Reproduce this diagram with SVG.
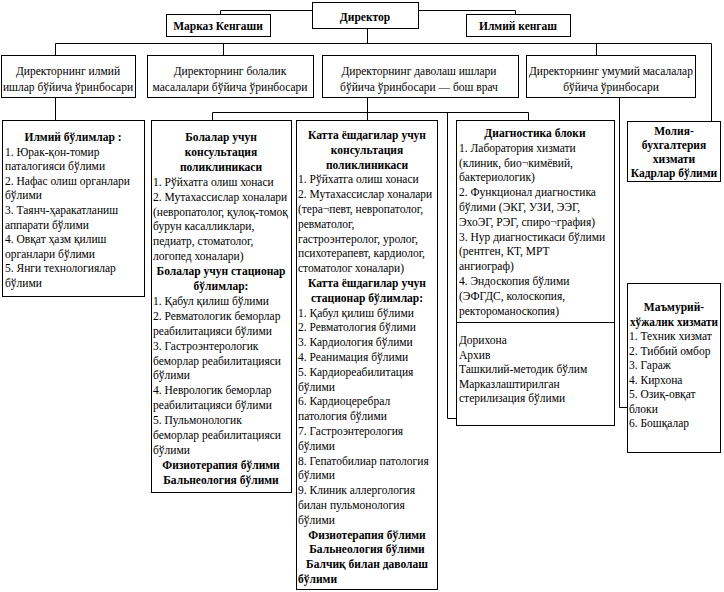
<svg xmlns="http://www.w3.org/2000/svg" width="724" height="592" viewBox="0 0 724 592">
<style>
rect{fill:#fff;stroke:#000;stroke-width:1}
.w path,.w line{stroke:#000;stroke-width:1;fill:none}
text{font-family:"Liberation Serif","Times New Roman",serif;font-size:11.5px;fill:#000}
.b{font-weight:bold}
.c{text-anchor:middle}
</style>
<rect width="724" height="592" style="stroke:none"/>
<g class="w" id="connectors">
<path d="M312.5 10.5H220.5V14"/>
<path d="M418.5 10.5H515.5V14"/>
<path d="M367.5 28V43.5"/>
<path d="M55.5 55V43.5H711.5V121"/>
<path d="M223.5 43.5V55"/>
<path d="M596.5 43.5V55"/>
<path d="M55.5 97V120"/>
<path d="M367.5 97V120"/>
<path d="M212.5 120V112.5H528.5V120"/>
<path d="M447.5 112.5V418.5H456"/>
<path d="M619.5 97V407.5H627"/>
</g>
<g id="director"><rect x="312.5" y="2.5" width="106" height="26"/><text class="b c" x="365" y="21">Директор</text></g>
<g id="markaz"><rect x="166.5" y="14.5" width="104" height="22"/><text class="b c" x="218" y="30">Марказ Кенгаши</text></g>
<g id="ilmiy-kengash"><rect x="466.5" y="14.5" width="104" height="22"/><text class="b c" x="518" y="30">Илмий кенгаш</text></g>
<g id="dep-ilmiy"><rect x="1.5" y="55.5" width="134" height="42"/><text class="c" x="68" y="75">Директорнинг илмий</text><text class="c" x="68" y="91">ишлар бўйича ўринбосари</text></g>
<g id="dep-bolalik"><rect x="147.5" y="55.5" width="166" height="42"/><text class="c" x="230" y="75">Директорнинг болалик</text><text class="c" x="230" y="91">масалалари бўйича ўринбосари</text></g>
<g id="dep-davolash"><rect x="322.5" y="55.5" width="196" height="42"/><text class="c" x="419" y="75">Директорнинг даволаш ишлари</text><text class="c" x="419" y="91">бўйича ўринбосари — бош врач</text></g>
<g id="dep-umumiy"><rect x="526.5" y="55.5" width="169" height="42"/><text class="c" x="611" y="75">Директорнинг умумий масалалар</text><text class="c" x="611" y="91">бўйича ўринбосари</text></g>
<g id="ilmiy-bolimlar"><rect x="2.5" y="120.5" width="142" height="176"/>
<text class="b c" x="73" y="141">Илмий бўлимлар :</text>
<text x="5" y="155.6">1. Юрак-қон-томир</text>
<text x="5" y="170.2">паталогияси бўлими</text>
<text x="5" y="184.8">2. Нафас олиш органлари</text>
<text x="5" y="199.4">бўлими</text>
<text x="5" y="214">3. Таянч-ҳаракатланиш</text>
<text x="5" y="228.6">аппарати бўлими</text>
<text x="5" y="243.2">4. Овқат ҳазм қилиш</text>
<text x="5" y="257.8">органлари бўлими</text>
<text x="5" y="272.4">5. Янги технологиялар</text>
<text x="5" y="287">бўлими</text>
</g>
<g id="bolalar"><rect x="151.5" y="120.5" width="140" height="372"/>
<text class="b c" x="221" y="141">Болалар учун</text>
<text class="b c" x="221" y="155.9">консультация</text>
<text class="b c" x="221" y="170.8">поликлиникаси</text>
<text x="153" y="185.7">1. Рўйхатга олиш хонаси</text>
<text x="153" y="200.6">2. Мутахассислар хоналари</text>
<text x="153" y="215.5">(невропатолог, қулоқ-томоқ</text>
<text x="153" y="230.4">бурун касалликлари,</text>
<text x="153" y="245.3">педиатр, стоматолог,</text>
<text x="153" y="260.2">логопед хоналари)</text>
<text class="b c" x="221" y="275.1">Болалар учун стационар</text>
<text class="b c" x="221" y="290">бўлимлар:</text>
<text x="153" y="304.9">1. Қабул қилиш бўлими</text>
<text x="153" y="319.8">2. Ревматологик беморлар</text>
<text x="153" y="334.7">реабилитацияси бўлими</text>
<text x="153" y="349.6">3. Гастроэнтерологик</text>
<text x="153" y="364.5">беморлар реабилитацияси</text>
<text x="153" y="379.4">бўлими</text>
<text x="153" y="394.3">4. Неврологик беморлар</text>
<text x="153" y="409.2">реабилитацияси бўлими</text>
<text x="153" y="424.1">5. Пульмонологик</text>
<text x="153" y="439">беморлар реабилитацияси</text>
<text x="153" y="453.9">бўлими</text>
<text class="b c" x="221" y="468.8">Физиотерапия бўлими</text>
<text class="b c" x="221" y="483.7">Бальнеология бўлими</text>
</g>
<g id="katta"><rect x="296.5" y="120.5" width="141" height="469"/>
<text class="b c" x="367" y="139">Катта ёшдагилар учун</text>
<text class="b c" x="367" y="153.8">консультация</text>
<text class="b c" x="367" y="168.6">поликлиникаси</text>
<text x="298" y="183.4">1. Рўйхатга олиш хонаси</text>
<text x="298" y="198.2">2. Мутахассислар хоналари</text>
<text x="298" y="213">(тера¬певт, невропатолог,</text>
<text x="298" y="227.8">ревматолог,</text>
<text x="298" y="242.6">гастроэнтеролог, уролог,</text>
<text x="298" y="257.4">психотерапевт, кардиолог,</text>
<text x="298" y="272.2">стоматолог хоналари)</text>
<text class="b c" x="367" y="287">Катта ёшдагилар учун</text>
<text class="b c" x="367" y="301.8">стационар бўлимлар:</text>
<text x="298" y="316.6">1. Қабул қилиш бўлими</text>
<text x="298" y="331.4">2. Ревматология бўлими</text>
<text x="298" y="346.2">3. Кардиология бўлими</text>
<text x="298" y="361">4. Реанимация бўлими</text>
<text x="298" y="375.8">5. Кардиореабилитация</text>
<text x="298" y="390.6">бўлими</text>
<text x="298" y="405.4">6. Кардиоцеребрал</text>
<text x="298" y="420.2">патология бўлими</text>
<text x="298" y="435">7. Гастроэнтерология</text>
<text x="298" y="449.8">бўлими</text>
<text x="298" y="464.6">8. Гепатобилиар патология</text>
<text x="298" y="479.4">бўлими</text>
<text x="298" y="494.2">9. Клиник аллергология</text>
<text x="298" y="509">билан пульмонология</text>
<text x="298" y="523.8">бўлими</text>
<text class="b c" x="367" y="538.6">Физиотерапия бўлими</text>
<text class="b c" x="367" y="553.4">Бальнеология бўлими</text>
<text class="b c" x="367" y="568.2">Балчиқ билан даволаш</text>
<text class="b" x="298" y="583">бўлими</text>
</g>
<g id="diagnostika"><rect x="456.5" y="120.5" width="158" height="305"/>
<line x1="456.5" y1="322.5" x2="614.5" y2="322.5" style="stroke:#000"/>
<text class="b c" x="535" y="137">Диагностика блоки</text>
<text x="459" y="151.8">1. Лаборатория хизмати</text>
<text x="459" y="166.6">(клиник, био¬кимёвий,</text>
<text x="459" y="181.4">бактериологик)</text>
<text x="459" y="196.2">2. Функционал диагностика</text>
<text x="459" y="211">бўлими (ЭКГ, УЗИ, ЭЭГ,</text>
<text x="459" y="225.8">ЭхоЭГ, РЭГ, спиро¬графия)</text>
<text x="459" y="240.6">3. Нур диагностикаси бўлими</text>
<text x="459" y="255.4">(рентген, КТ, МРТ</text>
<text x="459" y="270.2">ангиограф)</text>
<text x="459" y="285">4. Эндоскопия бўлими</text>
<text x="459" y="299.8">(ЭФГДС, колоскопия,</text>
<text x="459" y="314.6">ректороманоскопия)</text>
<text x="459" y="344">Дорихона</text>
<text x="459" y="358.5">Архив</text>
<text x="459" y="373">Ташкилий-методик бўлим</text>
<text x="459" y="387.5">Марказлаштирилган</text>
<text x="459" y="402">стерилизация бўлими</text>
</g>
<g id="moliya"><rect x="627.5" y="121.5" width="93" height="60"/>
<text class="b c" x="674" y="135">Молия-</text>
<text class="b c" x="674" y="149">бухгалтерия</text>
<text class="b c" x="674" y="163">хизмати</text>
<text class="b c" x="674" y="177">Кадрлар бўлими</text>
</g>
<g id="mamuriy"><rect x="627.5" y="283.5" width="93" height="169"/>
<text class="b c" x="674" y="311">Маъмурий-</text>
<text class="b c" x="674" y="325.5" textLength="88" lengthAdjust="spacingAndGlyphs">хўжалик хизмати</text>
<text x="629" y="340">1. Техник хизмат</text>
<text x="629" y="354.5">2. Тиббий омбор</text>
<text x="629" y="369">3. Гараж</text>
<text x="629" y="383.5">4. Кирхона</text>
<text x="629" y="398">5. Озиқ-овқат</text>
<text x="629" y="412.5">блоки</text>
<text x="629" y="427">6. Бошқалар</text>
</g>
</svg>
